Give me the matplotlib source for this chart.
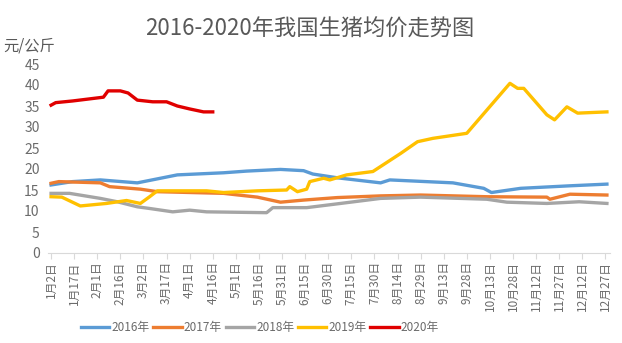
import matplotlib
matplotlib.use('Agg')
import matplotlib.pyplot as plt
import numpy as np

plt.rcParams['font.family'] = ['Noto Sans CJK SC', 'DejaVu Sans']

# tick labels every 15 days starting Jan 2
tick_labels = ['1月2日', '1月17日', '2月1日', '2月16日', '3月2日', '3月17日', '4月1日',
               '4月16日', '5月1日', '5月16日', '5月31日', '6月15日', '6月30日', '7月15日',
               '7月30日', '8月14日', '8月29日', '9月13日', '9月28日', '10月13日', '10月28日',
               '11月12日', '11月27日', '12月12日', '12月27日']

# days counted from Jan 2, prices in 元/公斤
days_2016 = [0, 14, 32, 56, 82, 112, 127, 149, 164, 170, 186, 214, 220, 261, 281, 286, 305, 337, 361]
price_2016 = [16.2, 17.0, 17.4, 16.7, 18.6, 19.1, 19.5, 19.9, 19.6, 18.8, 17.9, 16.7, 17.4, 16.7, 15.4, 14.4, 15.4, 16.0, 16.4]

days_2017 = [0, 5, 32, 38, 58, 69, 112, 134, 149, 164, 186, 214, 240, 283, 322, 324, 337, 361]
price_2017 = [16.6, 17.0, 16.7, 15.8, 15.2, 14.6, 14.2, 13.3, 12.1, 12.6, 13.2, 13.6, 13.8, 13.4, 13.3, 12.8, 14.0, 13.8]

days_2018 = [0, 12, 32, 43, 56, 64, 79, 90, 101, 140, 144, 166, 188, 214, 240, 283, 296, 322, 343, 361]
price_2018 = [14.2, 14.2, 13.0, 12.2, 11.0, 10.6, 9.8, 10.2, 9.8, 9.6, 10.8, 10.8, 11.8, 13.0, 13.3, 12.8, 12.1, 11.8, 12.2, 11.8]

days_2019 = [0, 7, 19, 36, 49, 58, 64, 69, 101, 112, 134, 153, 155, 160, 166, 168, 177, 181, 192, 209,
             227, 238, 248, 270, 298, 303, 307, 322, 327, 335, 342, 361]
price_2019 = [13.4, 13.3, 11.2, 11.8, 12.5, 11.8, 13.4, 14.8, 14.8, 14.4, 14.8, 15.0, 15.8, 14.6, 15.2, 17.0,
              17.8, 17.4, 18.6, 19.4, 23.7, 26.5, 27.3, 28.5, 40.4, 39.2, 39.2, 32.9, 31.7, 34.8, 33.3, 33.6]

days_2020 = [0, 3, 14, 34, 37, 45, 50, 56, 66, 75, 82, 90, 99, 105]
price_2020 = [35.2, 35.8, 36.2, 37.1, 38.6, 38.6, 38.1, 36.4, 36.0, 36.0, 35.0, 34.3, 33.6, 33.6]

fig = plt.figure(figsize=(6.22, 3.43), dpi=100)
ax = fig.add_axes([48 / 622, 90 / 343, 562 / 622, 189 / 343])

ax.plot(days_2016, price_2016, color='#5B9BD5', lw=2.4, label='2016年')
ax.plot(days_2017, price_2017, color='#ED7D31', lw=2.4, label='2017年')
ax.plot(days_2018, price_2018, color='#A5A5A5', lw=2.4, label='2018年')
ax.plot(days_2019, price_2019, color='#FFC000', lw=2.4, label='2019年')
ax.plot(days_2020, price_2020, color='#E00000', lw=2.4, label='2020年')

ax.set_xlim(-2, 363)
ax.set_ylim(0, 45)
ax.set_yticks(np.arange(0, 46, 5))
ax.set_xticks(np.arange(len(tick_labels)) * 15)
ax.set_xticklabels(tick_labels, rotation=90, fontsize=8.5, color='#6b6b6b')
ax.tick_params(axis='y', length=0, labelsize=10, labelcolor='#6b6b6b', pad=6)
ax.tick_params(axis='x', length=4, color='#D9D9D9', pad=2)

for s in ['top', 'right', 'left']:
    ax.spines[s].set_visible(False)
ax.spines['bottom'].set_color('#D9D9D9')

fig.text(310 / 622, 1 - 29 / 343, '2016-2020年我国生猪均价走势图', ha='center', va='center',
         fontsize=16, color='#595959')
fig.text(0.005, 0.865, '元/公斤', ha='left', va='center', fontsize=11, color='#595959')

ax.legend(loc='center', bbox_to_anchor=((260 - 48) / 562, -0.395), ncol=5, frameon=False,
          fontsize=8.5, handlelength=2.4, columnspacing=0.3, handletextpad=0.2,
          labelcolor='#6b6b6b')

fig.savefig('out.png', dpi=100)
